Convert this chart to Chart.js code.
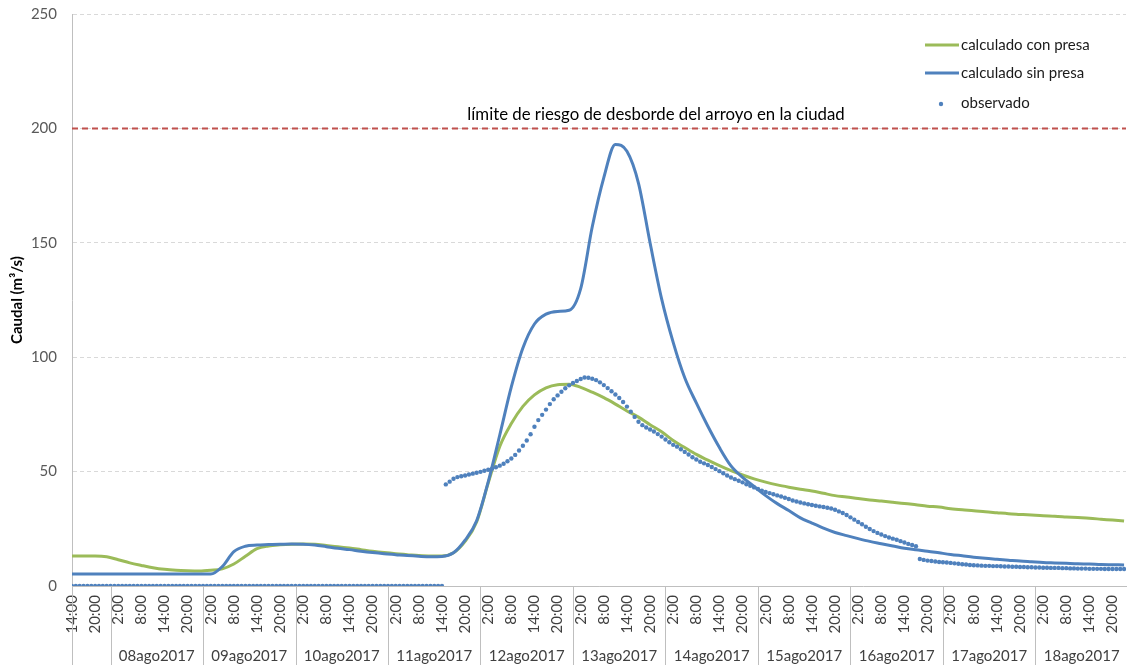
<!DOCTYPE html>
<html>
<head>
<meta charset="utf-8">
<script src="https://cdn.jsdelivr.net/npm/chart.js@4"></script>
<style>
  html, body { margin: 0; padding: 0; background: #fff; }
  #wrap { width: 1130px; height: 665px; position: relative; }
</style>
</head>
<body>
<div id="wrap"><canvas id="caudalChart"></canvas></div>
<script>
// x values are hours counted from 07ago2017 14:00
const firstHour = 14;
const lastHour = 273.5;
const stepLines = 3; // calculated series are given every 3 hours
const dayLabels = ['08ago2017', '09ago2017', '10ago2017', '11ago2017', '12ago2017', '13ago2017',
  '14ago2017', '15ago2017', '16ago2017', '17ago2017', '18ago2017'];
const seriesNames = ['calculado con presa', 'calculado sin presa', 'observado'];
const limiteRiesgo = 200;
const limiteTexto = 'límite de riesgo de desborde del arroyo en la ciudad';

const conPresa = [
  13.1, 13.1, 13.1, 12.8, 11.5, 10.1, 9.0, 8.0,
  7.3, 6.9, 6.7, 6.6, 6.9, 7.5, 9.6, 13.0,
  16.3, 17.5, 18.0, 18.3, 18.4, 18.2, 17.7, 17.2,
  16.6, 15.9, 15.2, 14.6, 14.1, 13.7, 13.3, 13.1,
  13.1, 14.5, 19.5, 28.0, 45.0, 61.0, 71.0, 78.5,
  83.5, 86.6, 88.0, 88.2, 86.8, 84.7, 82.3, 79.5,
  76.5, 73.8, 70.5, 67.4, 63.6, 60.5, 57.5, 55.0,
  52.6, 50.4, 48.5, 46.8, 45.4, 44.2, 43.2, 42.3,
  41.5, 40.5, 39.5, 38.9, 38.2, 37.6, 37.1, 36.6,
  36.1, 35.5, 34.9, 34.5, 33.8, 33.3, 32.9, 32.4,
  32.0, 31.6, 31.3, 31.0, 30.7, 30.5, 30.2, 29.9,
  29.6, 29.2, 28.8, 28.4
];

const sinPresa = [
  5.2, 5.2, 5.2, 5.2, 5.2, 5.2, 5.2, 5.2,
  5.2, 5.2, 5.2, 5.2, 5.2, 8.5, 15.0, 17.4,
  17.9, 18.1, 18.3, 18.4, 18.3, 17.9, 17.2, 16.5,
  15.9, 15.2, 14.6, 14.1, 13.7, 13.3, 13.0, 12.8,
  12.9, 14.5, 20.0, 28.5, 45.5, 66.0, 87.0, 104.0,
  114.5, 118.8, 120.0, 120.5, 130.0, 157.0, 178.5, 193.0,
  190.0, 176.0, 150.0, 125.5, 106.5, 91.0, 80.0, 69.8,
  60.5, 52.5, 47.5, 43.5, 39.5, 36.0, 33.0, 29.8,
  27.5, 25.3, 23.4, 22.0, 20.7, 19.5, 18.5, 17.5,
  16.5, 15.8, 15.2, 14.5, 13.8, 13.2, 12.6, 12.1,
  11.7, 11.3, 10.9, 10.6, 10.3, 10.1, 9.9, 9.7,
  9.6, 9.4, 9.3, 9.2
];

// hourly observations
const observado = [
  0, 0, 0, 0, 0, 0, 0, 0, 0, 0,
  0, 0, 0, 0, 0, 0, 0, 0, 0, 0, 0, 0, 0, 0, 0, 0, 0, 0, 0, 0, 0, 0, 0, 0,
  0, 0, 0, 0, 0, 0, 0, 0, 0, 0, 0, 0, 0, 0, 0, 0, 0, 0, 0, 0, 0, 0, 0, 0,
  0, 0, 0, 0, 0, 0, 0, 0, 0, 0, 0, 0, 0, 0, 0, 0, 0, 0, 0, 0, 0, 0, 0, 0,
  0, 0, 0, 0, 0, 0, 0, 0, 0, 0, 0, 0, 0, 0, 0, 44.4, 45.6, 46.9, 47.6, 48.0, 48.3, 48.7, 49.1, 49.5,
  49.9, 50.4, 50.8, 51.3, 51.9, 52.6, 53.4, 54.5, 55.7, 57.3, 59.2, 61.3, 63.6, 66.3, 69.6, 72.5, 74.8, 77.1, 79.5, 81.6, 83.3, 84.9, 86.4, 87.7,
  88.7, 89.6, 90.5, 91.1, 91.0, 90.6, 90.0, 89.0, 87.8, 86.5, 85.1, 83.7, 82.2, 80.4, 78.4, 76.2, 73.9, 71.8, 70.3, 69.3, 68.4, 67.5, 66.4, 65.3,
  64.0, 62.8, 61.7, 60.9, 59.8, 58.6, 57.5, 56.3, 55.3, 54.3, 53.6, 52.9, 52.0, 51.1, 50.2, 49.3, 48.3, 47.4, 46.7, 46.0, 45.3, 44.5, 43.8, 43.1,
  42.4, 41.7, 41.1, 40.6, 40.1, 39.6, 39.1, 38.6, 38.0, 37.4, 36.9, 36.5, 36.1, 35.7, 35.4, 35.1, 34.8, 34.5, 34.2, 33.9, 33.3, 32.6, 31.9, 31.0,
  30.0, 29.0, 28.0, 27.0, 25.9, 24.9, 24.0, 23.2, 22.5, 21.8, 21.2, 20.7, 20.2, 19.6, 19.0, 18.4, 17.9, 17.4, 11.8, 11.4, 11.1, 10.9, 10.7, 10.5,
  10.4, 10.3, 10.1, 9.9, 9.7, 9.5, 9.4, 9.2, 9.1, 9.0, 8.9, 8.8, 8.8, 8.7, 8.7, 8.6, 8.5, 8.5, 8.4, 8.4, 8.3, 8.3, 8.2, 8.2,
  8.1, 8.1, 8.0, 8.0, 7.9, 7.9, 7.9, 7.8, 7.8, 7.7, 7.7, 7.6, 7.6, 7.6, 7.5, 7.5, 7.5, 7.5, 7.4, 7.4, 7.4, 7.4, 7.4, 7.4
];

const GREEN = '#9bbb59';
const BLUE = '#4f81bd';
const RED = '#c0504d';
const FONT = 'Lato, "Open Sans", sans-serif';

// first midnight is 10 h after the start
const firstMidnight = 24 - firstHour;

// day separators, day names, legend and the limit caption
const extrasPlugin = {
  id: 'extras',
  afterDraw: (chart) => {
    const { ctx, chartArea, scales: { x, y } } = chart;
    const bottom = chart.height;

    ctx.save();
    ctx.strokeStyle = '#bfbfbf';
    ctx.lineWidth = 1;
    const bounds = [0];
    dayLabels.forEach((_, i) => bounds.push(firstMidnight + 24 * i));
    bounds.forEach(h => {
      const px = Math.round(x.getPixelForValue(h)) + 0.5;
      ctx.beginPath();
      ctx.moveTo(px, chartArea.bottom);
      ctx.lineTo(px, bottom);
      ctx.stroke();
    });

    ctx.fillStyle = '#404040';
    ctx.font = '15px ' + FONT;
    ctx.textAlign = 'center';
    ctx.textBaseline = 'middle';
    dayLabels.forEach((label, i) => {
      const px = x.getPixelForValue(firstMidnight + 24 * i + 12);
      ctx.fillText(label, px, 656);
    });

    // caption above the limit line
    ctx.fillStyle = '#000';
    ctx.font = '16.8px ' + FONT;
    ctx.fillText(limiteTexto, 656, y.getPixelForValue(limiteRiesgo) - 14);

    // legend
    const rows = [45, 73, 103];
    ctx.font = '15px ' + FONT;
    ctx.textAlign = 'left';
    [GREEN, BLUE].forEach((c, i) => {
      ctx.strokeStyle = c;
      ctx.lineWidth = 3;
      ctx.beginPath();
      ctx.moveTo(925, rows[i]);
      ctx.lineTo(959, rows[i]);
      ctx.stroke();
    });
    ctx.fillStyle = BLUE;
    ctx.beginPath();
    ctx.arc(941, rows[2] + 1, 2.2, 0, Math.PI * 2);
    ctx.fill();
    ctx.fillStyle = '#1a1a1a';
    seriesNames.forEach((name, i) => ctx.fillText(name, 961, rows[i]));
    ctx.restore();
  }
};

const ctx = document.getElementById('caudalChart').getContext('2d');

new Chart(ctx, {
  type: 'line',
  data: {
    datasets: [
      {
        label: seriesNames[2],
        data: observado.map((v, i) => ({ x: i, y: v })),
        showLine: false,
        pointRadius: 2.2,
        pointBackgroundColor: BLUE,
        pointBorderWidth: 0,
        order: 0
      },
      {
        label: seriesNames[1],
        data: sinPresa.map((v, i) => ({ x: i * stepLines, y: v })),
        borderColor: BLUE,
        borderWidth: 3,
        pointRadius: 0,
        cubicInterpolationMode: 'monotone',
        order: 1
      },
      {
        label: seriesNames[0],
        data: conPresa.map((v, i) => ({ x: i * stepLines, y: v })),
        borderColor: GREEN,
        borderWidth: 3,
        pointRadius: 0,
        cubicInterpolationMode: 'monotone',
        order: 2
      },
      {
        label: 'límite',
        data: [{ x: 0, y: limiteRiesgo }, { x: lastHour, y: limiteRiesgo }],
        borderColor: RED,
        borderWidth: 2,
        borderDash: [6, 4],
        pointRadius: 0,
        order: 3
      }
    ]
  },
  options: {
    responsive: true,
    maintainAspectRatio: false,
    animation: false,
    layout: { padding: { top: 14, right: 0, left: 0, bottom: 0 } },
    plugins: {
      legend: { display: false },
      tooltip: { enabled: false }
    },
    scales: {
      x: {
        type: 'linear',
        min: 0,
        max: lastHour,
        grid: { display: false, drawTicks: false },
        border: { display: true, color: '#bfbfbf', width: 1 },
        ticks: {
          stepSize: 6,
          includeBounds: false,
          autoSkip: false,
          minRotation: 90,
          maxRotation: 90,
          padding: 9,
          color: '#404040',
          font: { family: FONT, size: 15 },
          callback: (value) => ((firstHour + value) % 24) + ':00'
        },
        afterFit: (scale) => {
          scale.height = 79;
          scale.paddingLeft = 0;
          scale.paddingRight = 0;
        }
      },
      y: {
        min: 0,
        max: 250,
        grid: { color: '#d9d9d9', drawTicks: false },
        border: { display: true, color: '#bfbfbf', width: 1, dash: [4, 3] },
        ticks: {
          stepSize: 50,
          padding: 15,
          color: '#595959',
          font: { family: FONT, size: 15 }
        },
        title: {
          display: true,
          text: 'Caudal (m³/s)',
          color: '#000',
          font: { family: FONT, size: 15, weight: 'bold' },
          padding: { top: 8, bottom: 0 }
        },
        afterFit: (scale) => {
          scale.width = 72;
          scale.paddingTop = 0;
          scale.paddingBottom = 0;
        }
      }
    }
  },
  plugins: [extrasPlugin]
});
</script>
</body>
</html>
